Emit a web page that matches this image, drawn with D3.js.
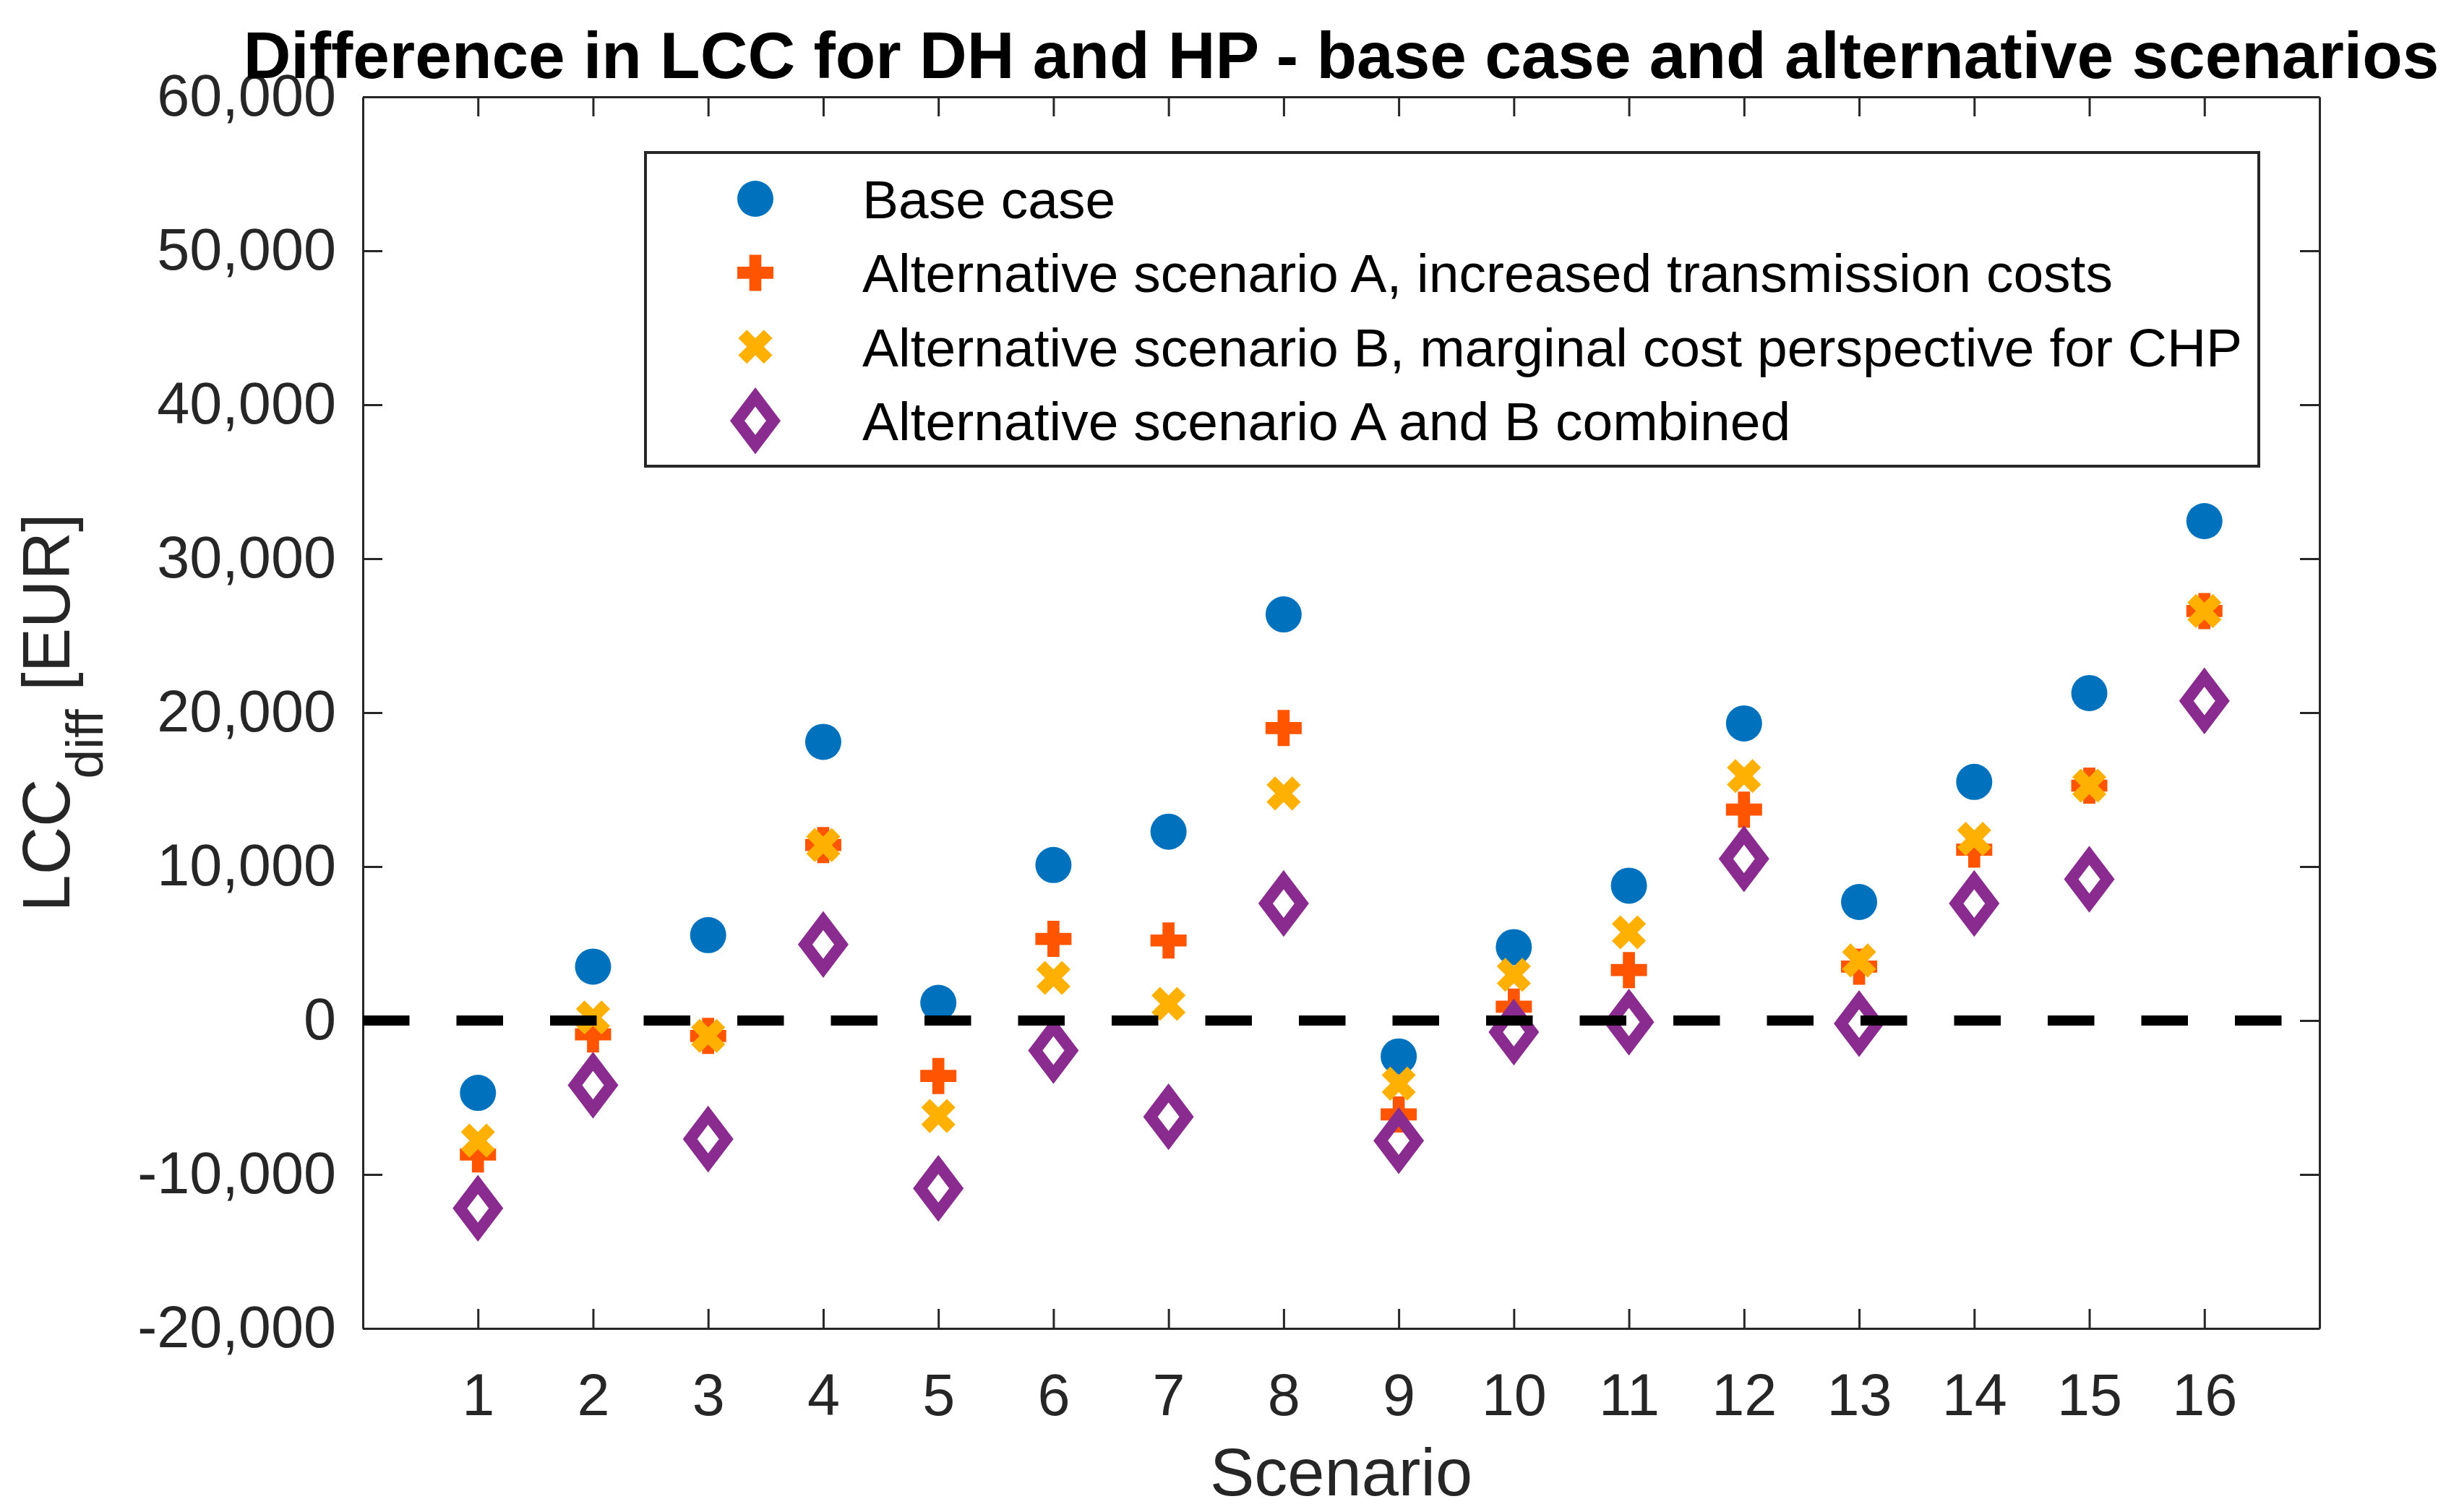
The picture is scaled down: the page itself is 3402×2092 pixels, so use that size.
<!DOCTYPE html>
<html>
<head>
<meta charset="utf-8">
<script src="https://cdn.jsdelivr.net/npm/d3@7"></script>
<style>
  body { margin: 0; background: #fff; }
  svg { display: block; font-family: 'Liberation Sans', Arial, Helvetica, sans-serif; }
</style>
</head>
<body>
<div id="root"></div>
<script>
const width = 3402;
const height = 2092;
const margin = { top: 134, right: 193, bottom: 254, left: 502 };

// Data (EUR)

const scenarios = [1, 2, 3, 4, 5, 6, 7, 8, 9, 10, 11, 12, 13, 14, 15, 16];

const baseCase = [
  -4700, 3500, 5550, 18100, 1150, 10100, 12270, 26380,
  -2330, 4770, 8760, 19300, 7700, 15500, 21270, 32440,
];
const scenarioA = [
  -8700, -900, -1000, 11400, -3600, 5300, 5200, 19000,
  -6100, 900, 3280, 13700, 3500, 11100, 15260, 26600,
];
const scenarioB = [
  -7800, 200, -1000, 11400, -6200, 2770, 1080, 14750,
  -4100, 2970, 5730, 15880, 3900, 11800, 15260, 26600,
];
const scenarioAB = [
  -12200, -4200, -7700, 4940, -10900, -1950, -6250, 7600,
  -7800, -750, -100, 10500, -200, 7600, 9180, 20760,
];

const seriesNames = [
  'Base case',
  'Alternative scenario A, increased transmission costs',
  'Alternative scenario B, marginal cost perspective for CHP',
  'Alternative scenario A and B combined',
];

const yTicks = [-20000, -10000, 0, 10000, 20000, 30000, 40000, 50000, 60000];

const axisColor = '#262626';

const series = [
  { name: seriesNames[0], values: baseCase, color: '#0072BD', shape: 'circle' },
  { name: seriesNames[1], values: scenarioA, color: '#FF5500', shape: 'plus' },
  { name: seriesNames[2], values: scenarioB, color: '#FFB000', shape: 'x' },
  { name: seriesNames[3], values: scenarioAB, color: '#8A2C8F', shape: 'diamond' },
];

// Marker shapes

const shapes = {
  circle: d3.symbol(d3.symbolCircle, Math.PI * 25 * 25)(),
  plus: d3.symbol(d3.symbolCross, 1389)(),
  x: d3.symbol(d3.symbolCross, 1389)(),
  diamond: 'M0,-33L25,0L0,33L-25,0Z',
};

function drawMarker(sel, s) {
  const p = sel.append('path').attr('d', shapes[s.shape]);
  if (s.shape === 'diamond') {
    p.attr('fill', 'none')
      .attr('stroke', s.color)
      .attr('stroke-width', 16)
      .attr('stroke-linejoin', 'miter');
  } else {
    p.attr('fill', s.color);
  }
  if (s.shape === 'x') p.attr('transform', 'rotate(45)');
}

// Main canvas

const svg = d3
  .select('#root')
  .append('svg')
  .attr('width', width)
  .attr('height', height);

svg.append('rect').attr('width', width).attr('height', height).attr('fill', '#fff');

// Scales

const xScale = d3
  .scaleLinear()
  .domain([0, 17])
  .range([margin.left, width - margin.right]);

const yScale = d3
  .scaleLinear()
  .domain([-20000, 60000])
  .range([height - margin.bottom, margin.top]);

const fmt = d3
  .formatLocale({ decimal: '.', thousands: ',', grouping: [3], currency: ['', ''], minus: '-' })
  .format(',');

// Axes (MATLAB style box, ticks pointing in)

function styleAxis(g) {
  g.attr('font-size', 81).attr('font-family', null);
  g.selectAll('path, line').attr('stroke', axisColor).attr('stroke-width', 3);
  g.selectAll('text').attr('fill', axisColor);
}

svg
  .append('g')
  .attr('id', 'x-axis')
  .attr('transform', `translate(0, ${height - margin.bottom})`)
  .call(
    d3.axisBottom(xScale).tickValues(scenarios).tickSizeInner(-27).tickSizeOuter(0).tickPadding(62)
  )
  .call(styleAxis);

svg
  .append('g')
  .attr('transform', `translate(0, ${margin.top})`)
  .call(d3.axisTop(xScale).tickValues(scenarios).tickSizeInner(-27).tickSizeOuter(0).tickFormat(''))
  .call(styleAxis);

svg
  .append('g')
  .attr('id', 'y-axis')
  .attr('transform', `translate(${margin.left}, 0)`)
  .call(
    d3.axisLeft(yScale).tickValues(yTicks).tickFormat(fmt).tickSizeInner(-27).tickSizeOuter(0).tickPadding(37)
  )
  .call(styleAxis);

svg
  .append('g')
  .attr('transform', `translate(${width - margin.right}, 0)`)
  .call(d3.axisRight(yScale).tickValues(yTicks).tickSizeInner(-27).tickSizeOuter(0).tickFormat(''))
  .call(styleAxis);

// Data points

series.forEach((s) => {
  svg
    .append('g')
    .selectAll('g')
    .data(s.values)
    .enter()
    .append('g')
    .attr('transform', (d, i) => `translate(${xScale(scenarios[i])}, ${yScale(d)})`)
    .each(function () {
      drawMarker(d3.select(this), s);
    });
});

// Zero line

svg
  .append('line')
  .attr('x1', xScale(0))
  .attr('x2', xScale(17))
  .attr('y1', yScale(0))
  .attr('y2', yScale(0))
  .attr('stroke', '#000')
  .attr('stroke-width', 14)
  .attr('stroke-dasharray', '64.5 65');

// Title and labels

const plotCenter = (margin.left + width - margin.right) / 2;

svg
  .append('text')
  .attr('x', plotCenter)
  .attr('y', 108)
  .attr('text-anchor', 'middle')
  .attr('font-size', 91)
  .attr('font-weight', 'bold')
  .attr('fill', '#000')
  .text('Difference in LCC for DH and HP - base case and alternative scenarios');

svg
  .append('text')
  .attr('x', plotCenter)
  .attr('y', 2069)
  .attr('text-anchor', 'middle')
  .attr('font-size', 92)
  .attr('fill', axisColor)
  .text('Scenario');

const yLabel = svg
  .append('text')
  .attr('transform', `translate(96, ${(margin.top + height - margin.bottom) / 2}) rotate(-90)`)
  .attr('text-anchor', 'middle')
  .attr('font-size', 92)
  .attr('fill', axisColor);

yLabel.append('tspan').text('LCC');
yLabel.append('tspan').attr('font-size', 73).attr('dy', 46).text('diff');
yLabel.append('tspan').attr('dy', -46).text(' [EUR]');

// Legend

const legend = svg.append('g').attr('id', 'legend');

legend
  .append('rect')
  .attr('x', 893)
  .attr('y', 211)
  .attr('width', 2232)
  .attr('height', 434)
  .attr('fill', '#fff')
  .attr('stroke', axisColor)
  .attr('stroke-width', 4);

const rowY = (i) => 275 + i * 102.4;

series.forEach((s, i) => {
  const row = legend.append('g');
  row
    .append('g')
    .attr('transform', `translate(1045, ${rowY(i)})`)
    .call((g) => drawMarker(g, s));
  row
    .append('text')
    .attr('x', 1193)
    .attr('y', rowY(i) + 27)
    .attr('font-size', 75)
    .attr('fill', '#000')
    .text(s.name);
});
</script>
</body>
</html>
